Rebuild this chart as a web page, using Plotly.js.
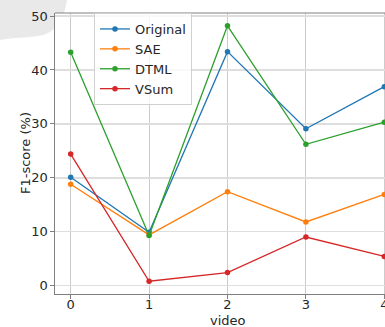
<!DOCTYPE html>
<html>
<head>
<meta charset="utf-8">
<script src="https://cdn.plot.ly/plotly-3.0.1.min.js"></script>
<style>
html,body{margin:0;padding:0;overflow:hidden;background:#fff;}
#wrap{position:relative;width:401px;height:327px;}
#blob{position:absolute;left:0;top:0;z-index:0;}
#chart{position:absolute;left:0;top:0;width:401px;height:327px;z-index:1;}
</style>
</head>
<body>
<div id="wrap">
<svg id="blob" width="80" height="50" xmlns="http://www.w3.org/2000/svg">
  <path d="M0,0 L67,0 C64,17 58,29 46,34 C36,38 16,37 0,40 Z" fill="#e9e9e9"/>
</svg>
<div id="chart"></div>
</div>
<script>
var videos = [0, 1, 2, 3, 4];
var seriesNames = ["Original", "SAE", "DTML", "VSum"];
var original = [20.1, 9.9, 43.4, 29.1, 36.9];
var sae = [18.8, 9.4, 17.4, 11.8, 16.9];
var dtml = [43.3, 9.3, 48.2, 26.2, 30.3];
var vsum = [24.4, 0.8, 2.4, 9.0, 5.4];
var xTicks = ["0", "1", "2", "3", "4"];
var yTicks = [0, 10, 20, 30, 40, 50];
var colors = ["#1f77b4", "#ff7f0e", "#2ca02c", "#d62728"];

var allSeries = [original, sae, dtml, vsum];
var traces = allSeries.map(function(vals, i){
  return {
    x: videos, y: vals, name: seriesNames[i], type: "scatter", mode: "lines+markers",
    legendgroup: "g" + i,
    line: {color: colors[i], width: 1.3},
    marker: {color: colors[i], size: 5.5},
    cliponaxis: false
  };
});

var W = 401, H = 327, L = 55, R = 1, T = 13, B = 33;
var pw = W - L - R, ph = H - T - B;
function px(x){ return (x - L) / pw; }
function py(y){ return (H - B - y) / ph; }

var layout = {
  width: W, height: H,
  margin: {l: L, r: R, t: T, b: B},
  paper_bgcolor: "rgba(0,0,0,0)", plot_bgcolor: "#ffffff",
  font: {family: "DejaVu Sans, sans-serif", size: 13, color: "#262626"},
  showlegend: true,
  legend: {
    x: px(94), y: py(13), xanchor: "left", yanchor: "top",
    bgcolor: "rgba(255,255,255,0.8)", bordercolor: "#d0d0d0", borderwidth: 1,
    font: {size: 13, color: "#262626"}, tracegroupgap: 0, itemwidth: 30
  },
  xaxis: {
    range: [-0.2, 4.2], tickmode: "array", tickvals: videos, ticktext: xTicks,
    showgrid: true, gridcolor: "#cccccc", gridwidth: 1,
    zeroline: false, showline: true, linecolor: "#808080", linewidth: 1.2,
    ticks: "outside", ticklen: 3.5, tickcolor: "#808080", tickwidth: 1,
    tickfont: {size: 13}, ticklabelstandoff: -5
  },
  yaxis: {
    range: [-1.57, 50.57], tickmode: "array", tickvals: yTicks,
    showgrid: true, gridcolor: "#dedede", gridwidth: 1.5,
    zeroline: false, showline: true, linecolor: "#808080", linewidth: 1.2,
    ticks: "outside", ticklen: 3.5, tickcolor: "#808080", tickwidth: 1,
    tickfont: {size: 13}
  },
  annotations: [
    {text: "video", xref: "paper", yref: "paper", x: px(228), y: py(320),
     xanchor: "center", yanchor: "middle", showarrow: false, font: {size: 13}},
    {text: "F1-score (%)", xref: "paper", yref: "paper", x: px(25), y: py(153),
     xanchor: "center", yanchor: "middle", textangle: -90, showarrow: false, font: {size: 13}}
  ],
  shapes: [
    {type: "line", xref: "paper", yref: "paper", x0: 0, x1: 1, y0: 1, y1: 1,
     line: {color: "#808080", width: 1.2}}
  ]
};

Plotly.newPlot("chart", traces, layout, {displayModeBar: false, staticPlot: true});
</script>
</body>
</html>
